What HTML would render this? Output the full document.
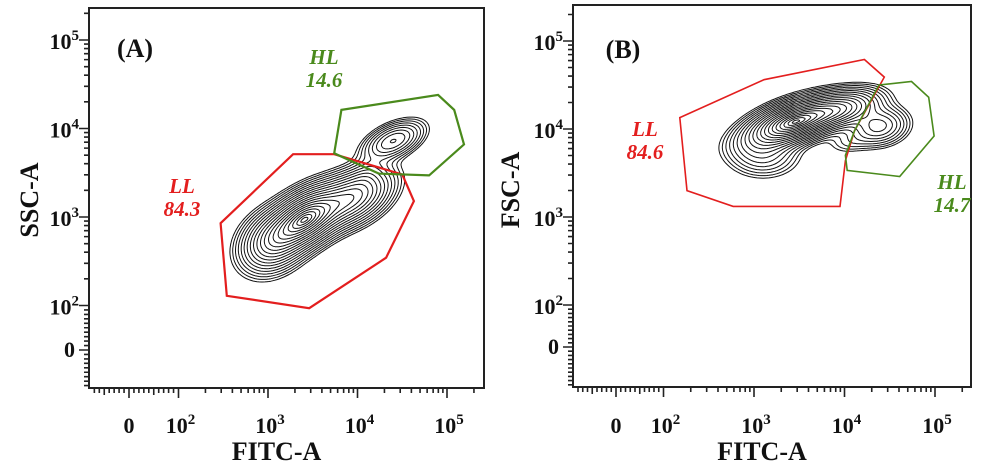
<!DOCTYPE html>
<html><head><meta charset="utf-8"><style>
html,body{margin:0;padding:0;background:#fff;}
svg{display:block;font-family:"Liberation Serif",serif;}
</style></head><body>
<svg id="fig" width="991" height="465" viewBox="0 0 991 465">
<g id="pA"></g>
<g id="pB"></g>
</svg>
<script>
// ---- data (log10 decades) ----
// clusters: [xLog, yLog, sigmaMajor, sigmaMinor, angleDeg, weight]
const clustersA = [
  [3.42, 2.98, 0.26, 0.15, 35, 1.0],
  [3.95, 3.22, 0.26, 0.15, 30, 0.55],
  [3.05, 2.72, 0.22, 0.17, 40, 0.45],
  [4.40, 3.86, 0.20, 0.10, 25, 0.30],
  [4.10, 3.48, 0.12, 0.08, 40, 0.05]
];
const clustersB = [
  [3.42, 4.07, 0.30, 0.12, 20, 1.0],
  [3.95, 4.22, 0.25, 0.11, 15, 0.50],
  [3.10, 3.70, 0.22, 0.14, 0, 0.15],
  [4.38, 4.03, 0.18, 0.12, 10, 0.25],
  [4.05, 3.85, 0.15, 0.08, 10, 0.05]
];
const gateA_LL = [[2.47,2.93],[3.28,3.71],[3.74,3.71],[4.50,3.48],[4.63,3.18],[4.32,2.54],[3.46,1.97],[2.54,2.11]];
const gateA_HL = [[3.74,3.72],[3.82,4.21],[4.90,4.38],[5.08,4.21],[5.19,3.82],[4.80,3.47],[4.24,3.49]];
const gateB_LL = [[2.18,4.13],[3.11,4.56],[4.22,4.79],[4.44,4.59],[4.11,3.98],[4.01,3.64],[3.95,3.12],[2.77,3.12],[2.26,3.30]];
const gateB_HL = [[4.38,4.50],[4.74,4.54],[4.93,4.36],[4.99,3.92],[4.61,3.46],[4.03,3.53],[4.01,3.70],[4.11,3.98]];
const decadeTicks = [2,3,4,5];
const levelCount = 20, outerRadius = 2.7;

const NS="http://www.w3.org/2000/svg";
function mk(tag,attrs,parent){const e=document.createElementNS(NS,tag);for(const k in attrs)e.setAttribute(k,attrs[k]);parent.appendChild(e);return e;}

function panel(gid,cfg){
  const g=document.getElementById(gid);
  const X=l=>cfg.x3+(l-3)*cfg.dx, Y=l=>cfg.y3-(l-3)*cfg.dy;
  const Xv=v=>v>=100?X(Math.log10(v)):cfg.x0+v/100*(X(2)-cfg.x0);
  const Yv=v=>v>=100?Y(Math.log10(v)):cfg.y0-v/100*(cfg.y0-Y(2));
  const L=cfg.L,R=cfg.R,T=cfg.T,B=cfg.B;
  const dens=(xl,yl)=>{let s=0;for(const c of cfg.cl){const a=c[4]*Math.PI/180,dx=xl-c[0],dy=yl-c[1];
    const u=dx*Math.cos(a)+dy*Math.sin(a),w=-dx*Math.sin(a)+dy*Math.cos(a);
    s+=c[5]*Math.exp(-0.5*(u*u/(c[2]*c[2])+w*w/(c[3]*c[3])));}return s;};
  const st=2,nx=Math.floor((R-L)/st),ny=Math.floor((B-T)/st),grid=[];let mx=0;
  for(let j=0;j<=ny;j++){const row=[];for(let i=0;i<=nx;i++){const px=L+i*st,py=T+j*st;
    const v=dens(3+(px-cfg.x3)/cfg.dx,3-(py-cfg.y3)/cfg.dy);row.push(v);if(v>mx)mx=v;}grid.push(row);}
  const cg=mk('g',{},g);
  for(let k=1;k<=levelCount;k++){
    const r=k*outerRadius/levelCount;
    const lv=mx*Math.exp(-0.5*r*r);let d='';
    for(let j=0;j<ny;j++)for(let i=0;i<nx;i++){
      const a=grid[j][i],b=grid[j][i+1],c=grid[j+1][i+1],e=grid[j+1][i];
      const px=L+i*st,py=T+j*st,pts=[];
      const it=(v1,v2)=>(lv-v1)/(v2-v1);
      if((a>lv)!=(b>lv))pts.push([px+st*it(a,b),py]);
      if((b>lv)!=(c>lv))pts.push([px+st,py+st*it(b,c)]);
      if((e>lv)!=(c>lv))pts.push([px+st*it(e,c),py+st]);
      if((a>lv)!=(e>lv))pts.push([px,py+st*it(a,e)]);
      for(let p=0;p+1<pts.length;p+=2)d+='M'+pts[p][0].toFixed(1)+' '+pts[p][1].toFixed(1)+'L'+pts[p+1][0].toFixed(1)+' '+pts[p+1][1].toFixed(1);
    }
    const p=mk('path',{d:d,fill:'none',stroke:'#111','stroke-width':1.0},cg);
    
    
  }
  const gate=(pts,col,name)=>{const p=mk('polygon',{points:pts.map(q=>X(q[0]).toFixed(1)+','+Y(q[1]).toFixed(1)).join(' '),fill:'none',stroke:col,'stroke-width':cfg.gw},g);
    };
  gate(cfg.ll,'#e31e1e','gate-ll');gate(cfg.hl,'#4a8a1c','gate-hl');
  mk('rect',{x:L,y:T,width:R-L,height:B-T,fill:'none',stroke:'#222','stroke-width':2,},g);
  let td='';
  for(let dd=2;dd<=5;dd++)for(let m=1;m<=9;m++){const v=m*Math.pow(10,dd);const xp=Xv(v);if(xp<=R-2){td+='M'+xp+' '+B+'v'+(m==1?10:5);}const yp=Yv(v);if(yp>=T+2)td+='M'+L+' '+yp+'h'+(m==1?-10:-5);}
  for(let v=-170;v<100;v+=10){const xp=Xv(v);if(xp>L+2)td+='M'+xp+' '+B+'v'+(v==0?10:(v%50==0?7:5));const yp=Yv(v);if(yp<B-2)td+='M'+L+' '+yp+'h'+(v==0?-10:-5);}
  mk('path',{d:td,stroke:'#222','stroke-width':1.6,fill:'none',},g);
  const lab=(x,y,exp,anchor,name)=>{const t=mk('text',{x:x,y:y,'text-anchor':anchor,'font-size':22,'font-weight':'bold',fill:'#111'},g);
    
    if(exp===null)t.textContent='0';else{t.textContent='10';const s=mk('tspan',{dy:-9,'font-size':15},t);s.textContent=String(exp);}};
  lab(Xv(0),433,null,'middle','x-tick-0');
  for(const d of decadeTicks){lab(X(d)+2,433,d,'middle','x-tick-1e'+d);}
  lab(L-14,Yv(0)+7,null,'end','y-tick-0');
  for(const d of decadeTicks){lab(L-10,Y(d)+9,d,'end','y-tick-1e'+d);}
  const tx=(x,y,s,sz,col,attrs,name)=>{const t=mk('text',Object.assign({x:x,y:y,'font-size':sz,'font-weight':'bold',fill:col,'text-anchor':'middle'},attrs||{}),g);t.textContent=s;
    return t;};
  tx((L+R)/2-10,460,'FITC-A',26,'#111',{},'x-axis-title');
  tx(cfg.ytx,cfg.yty,cfg.yt,26,'#111',{transform:'rotate(-90 '+cfg.ytx+' '+cfg.yty+')'},'y-axis-title');
  tx(cfg.px,cfg.py,cfg.pl,26,'#111',{},'panel-label');
  tx(cfg.llx,cfg.lly,'LL',21,'#e31e1e',{'font-style':'italic'},'ll-gate-name');
  tx(cfg.llx,cfg.lly+23,cfg.llv,21,'#e31e1e',{'font-style':'italic'},'ll-gate-percent');
  tx(cfg.hlx,cfg.hly,'HL',21,'#4a8a1c',{'font-style':'italic'},'hl-gate-name');
  tx(cfg.hlx,cfg.hly+23,cfg.hlv,21,'#4a8a1c',{'font-style':'italic'},'hl-gate-percent');
}
panel('pA',{L:89,R:484,T:8,B:388,x3:268,dx:89.5,y3:217,dy:88.5,x0:129,y0:350,cl:clustersA,ll:gateA_LL,hl:gateA_HL,gw:2.2,
  yt:'SSC-A',ytx:38,yty:200,pl:'(A)',px:135,py:57,llx:182,lly:193,llv:'84.3',hlx:324,hly:64,hlv:'14.6'});
panel('pB',{L:573,R:971,T:5,B:387,x3:754,dx:90.5,y3:217,dy:88,x0:616,y0:347,cl:clustersB,ll:gateB_LL,hl:gateB_HL,gw:1.6,
  yt:'FSC-A',ytx:519,yty:190,pl:'(B)',px:623,py:58,llx:645,lly:136,llv:'84.6',hlx:952,hly:189,hlv:'14.7'});
</script>
</body></html>
